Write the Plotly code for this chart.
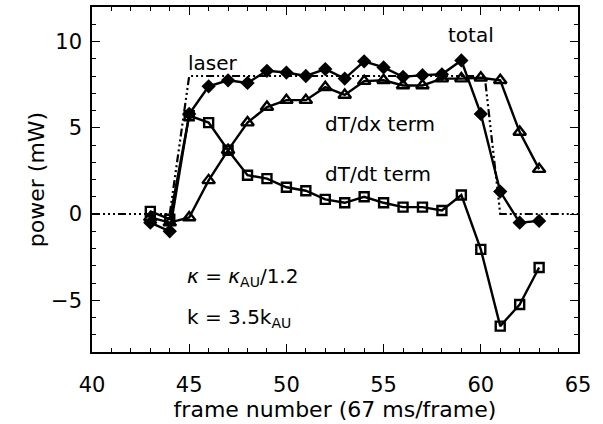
import plotly.graph_objects as go

frames = list(range(43, 64))
total = [-0.5, -1.0, 5.8, 7.4, 7.75, 7.6, 8.3, 8.2, 8.0, 8.4, 7.85, 8.85,
         8.5, 7.95, 8.05, 8.1, 8.9, 5.8, 1.3, -0.5, -0.4]
dTdx = [-0.2, -0.5, -0.2, 1.95, 3.7, 5.3, 6.2, 6.6, 6.6, 7.35, 6.9, 7.7,
        7.75, 7.45, 7.45, 7.85, 7.85, 7.9, 7.75, 4.75, 2.6]
dTdt = [0.15, -0.3, 5.7, 5.3, 3.7, 2.25, 2.05, 1.55, 1.35, 0.85, 0.65, 1.0,
        0.65, 0.4, 0.4, 0.2, 1.1, -2.05, -6.5, -5.25, -3.1]
laser_x = [40, 44, 45, 60.2, 61, 65]
laser_y = [0, 0, 8, 8, 0, 0]

FONT = "DejaVu Sans"

fig = go.Figure()
fig.add_trace(go.Scatter(x=laser_x, y=laser_y, mode="lines",
                         line=dict(color="black", width=2.2,
                                   dash="8px,3px,2px,3px,2px,3px,2px,3px"),
                         showlegend=False))
fig.add_trace(go.Scatter(x=frames, y=dTdt, mode="lines+markers",
                         line=dict(color="black", width=2.4),
                         marker=dict(symbol="square-open", size=9, color="black",
                                     line=dict(width=2.4, color="black")),
                         showlegend=False))
fig.add_trace(go.Scatter(x=frames, y=dTdx, mode="lines+markers",
                         line=dict(color="black", width=2.4),
                         marker=dict(symbol="triangle-up-open", size=11, color="black",
                                     line=dict(width=2.4, color="black")),
                         showlegend=False))
fig.add_trace(go.Scatter(x=frames, y=total, mode="lines+markers",
                         line=dict(color="black", width=2.4),
                         marker=dict(symbol="diamond", size=11, color="black"),
                         showlegend=False))

tf = dict(family=FONT, size=20, color="black")
fig.add_annotation(x=46.2, y=8.75, text="laser", showarrow=False, font=tf)
fig.add_annotation(x=59.5, y=10.35, text="total", showarrow=False, font=tf)
fig.add_annotation(x=54.8, y=5.2, text="dT/dx term", showarrow=False, font=tf)
fig.add_annotation(x=54.7, y=2.3, text="dT/dt term", showarrow=False, font=tf)
fig.add_annotation(x=44.8, y=-3.65, xanchor="left",
                   text="<i>κ</i> = <i>κ</i><sub>AU</sub>/1.2", showarrow=False, font=tf)
fig.add_annotation(x=44.8, y=-6.0, xanchor="left",
                   text="k = 3.5k<sub>AU</sub>", showarrow=False, font=tf)

axis_common = dict(showline=True, linecolor="black", linewidth=1.5, mirror="allticks",
                   ticks="inside", ticklen=8, tickwidth=1.2, tickcolor="black",
                   showgrid=False, zeroline=False, automargin=False,
                   tickfont=dict(family=FONT, size=21, color="black"))
fig.update_xaxes(range=[40, 65], dtick=5, tick0=40,
                 minor=dict(dtick=1, ticks="inside", ticklen=4, tickcolor="black"),
                 title=dict(text="frame number (67 ms/frame)",
                            font=dict(family=FONT, size=22, color="black"), standoff=3),
                 ticklabelstandoff=13,
                 **axis_common)
fig.update_yaxes(range=[-8, 12], dtick=5, tick0=0,
                 minor=dict(dtick=1, ticks="inside", ticklen=4, tickcolor="black"),
                 title=dict(text="power (mW)",
                            font=dict(family=FONT, size=22, color="black"), standoff=0),
                 ticklabelstandoff=4,
                 **axis_common)

fig.update_layout(width=603, height=424, margin=dict(l=92, r=25, t=7, b=72),
                  paper_bgcolor="white", plot_bgcolor="white",
                  font=dict(family=FONT, color="black"))
fig.write_html("out.html", config={"displayModeBar": False},
               post_script="document.body.style.margin='0';document.body.style.padding='0';")
